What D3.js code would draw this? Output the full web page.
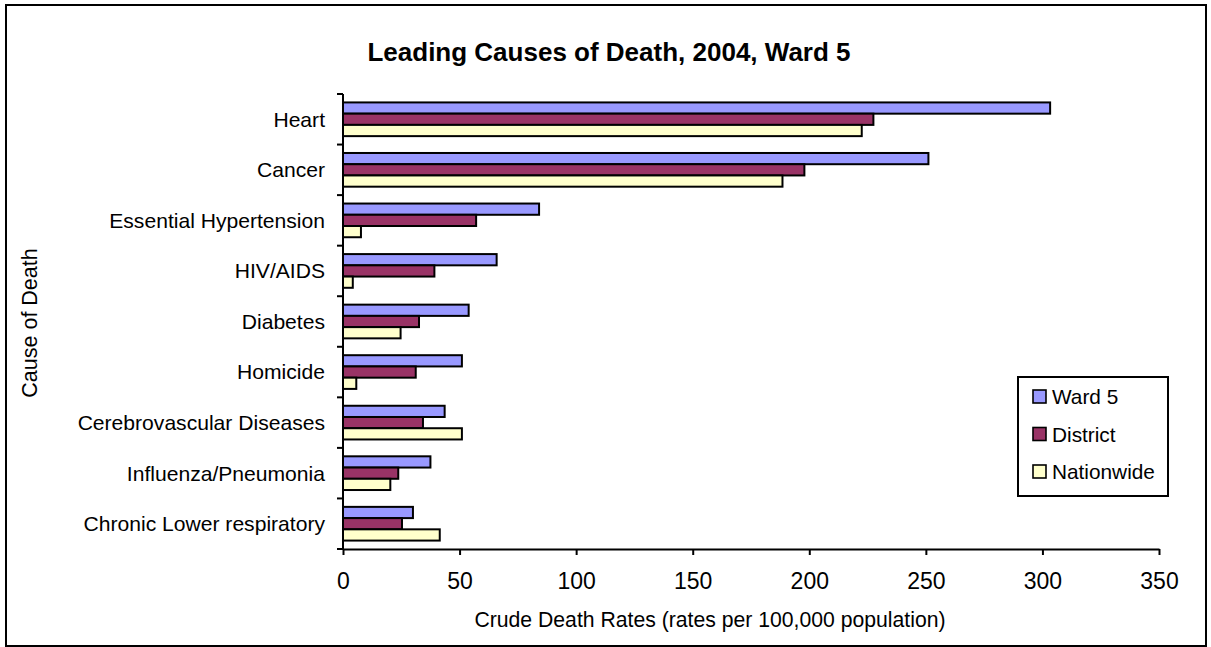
<!DOCTYPE html>
<html><head><meta charset="utf-8">
<script src="https://cdn.jsdelivr.net/npm/d3@7"></script>
<style>
html,body{margin:0;padding:0;background:#fff;}
svg{display:block;}
text{font-family:"Liberation Sans",Arial,sans-serif;fill:#000;}
</style></head>
<body>
<svg id="chart" width="1211" height="647"></svg>
<script>
const categories = ["Heart","Cancer","Essential Hypertension","HIV/AIDS","Diabetes","Homicide","Cerebrovascular Diseases","Influenza/Pneumonia","Chronic Lower respiratory"];
const seriesNames = ["Ward 5","District","Nationwide"];
const ward5 = [303.3, 251.1, 84.1, 65.9, 53.9, 51.0, 43.6, 37.5, 30.0];
const district = [227.5, 197.9, 57.1, 39.2, 32.6, 31.2, 34.3, 23.7, 25.3];
const nationwide = [222.5, 188.5, 7.7, 4.2, 24.7, 5.7, 51.0, 20.3, 41.5];
const xTicks = [0,50,100,150,200,250,300,350];
const colors = ["#9999FF","#993366","#FFFFCC"];
const title = "Leading Causes of Death, 2004, Ward 5";
const xTitle = "Crude Death Rates (rates per 100,000 population)";
const yTitle = "Cause of Death";

const seriesValues = [ward5, district, nationwide];
const svg = d3.select("#chart");

// outer border
svg.append("rect").attr("x",6).attr("y",5).attr("width",1200).attr("height",641)
  .attr("fill","#fff").attr("stroke","#000").attr("stroke-width",2);

const x = d3.scaleLinear().domain([0,350]).range([343,1159]);
const y = d3.scaleBand().domain(categories).range([94,549]).padding(0);
const ySub = d3.scaleBand().domain(seriesNames).range([0,y.bandwidth()]).paddingInner(0).paddingOuter(0.75);

// bars
seriesNames.forEach((s,si)=>{
  svg.append("g").selectAll("rect").data(categories).join("rect")
    .attr("x", x(0))
    .attr("y", (c)=> y(c)+ySub(s))
    .attr("width", (c,i)=> x(seriesValues[si][i]) - x(0))
    .attr("height", ySub.bandwidth())
    .attr("fill", colors[si])
    .attr("stroke","#000").attr("stroke-width",2);
});

// x axis
const xAxis = d3.axisBottom(x).tickValues(xTicks).tickSize(6).tickSizeOuter(0).tickFormat(d3.format("d"));
const gx = svg.append("g").attr("transform",`translate(0,549)`).call(xAxis);
gx.select(".domain").attr("stroke","#000").attr("stroke-width",2);
gx.selectAll(".tick line").attr("stroke","#000").attr("stroke-width",2);
gx.selectAll(".tick text").attr("font-family","Liberation Sans, Arial, sans-serif").attr("font-size",23).attr("dy","1.33em").attr("fill","#000");

// y axis: ticks at category boundaries
const gy = svg.append("g");
gy.append("line").attr("x1",343).attr("x2",343).attr("y1",94).attr("y2",549).attr("stroke","#000").attr("stroke-width",2);
const bounds = categories.map(c=>y(c)).concat([y.range()[1]]);
gy.selectAll("line.t").data(bounds).join("line").attr("class","t")
  .attr("x1",337).attr("x2",343).attr("y1",d=>d).attr("y2",d=>d)
  .attr("stroke","#000").attr("stroke-width",2);
gy.selectAll("text").data(categories).join("text")
  .attr("x",325).attr("y",c=>y(c)+y.bandwidth()/2)
  .attr("dy","0.35em").attr("text-anchor","end").attr("font-size",21.1).text(d=>d);

// titles
svg.append("text").attr("x",609).attr("y",61).attr("text-anchor","middle")
  .attr("font-size",26).attr("font-weight","bold").text(title);
svg.append("text").attr("x",710).attr("y",627).attr("text-anchor","middle")
  .attr("font-size",21.2).text(xTitle);
svg.append("text").attr("transform","translate(37,323) rotate(-90)").attr("text-anchor","middle")
  .attr("font-size",21.5).text(yTitle);

// legend
const lg = svg.append("g");
lg.append("rect").attr("x",1018).attr("y",377).attr("width",150).attr("height",119)
  .attr("fill","#fff").attr("stroke","#000").attr("stroke-width",2);
const legY = d3.scalePoint().domain(seriesNames).range([397,472]);
seriesNames.forEach((s,i)=>{
  lg.append("rect").attr("x",1033).attr("y",legY(s)-7).attr("width",13).attr("height",13)
    .attr("fill",colors[i]).attr("stroke","#000").attr("stroke-width",1.6);
  lg.append("text").attr("x",1052).attr("y",legY(s)).attr("dy","0.35em").attr("font-size",20.8).text(s);
});
</script>
</body></html>
